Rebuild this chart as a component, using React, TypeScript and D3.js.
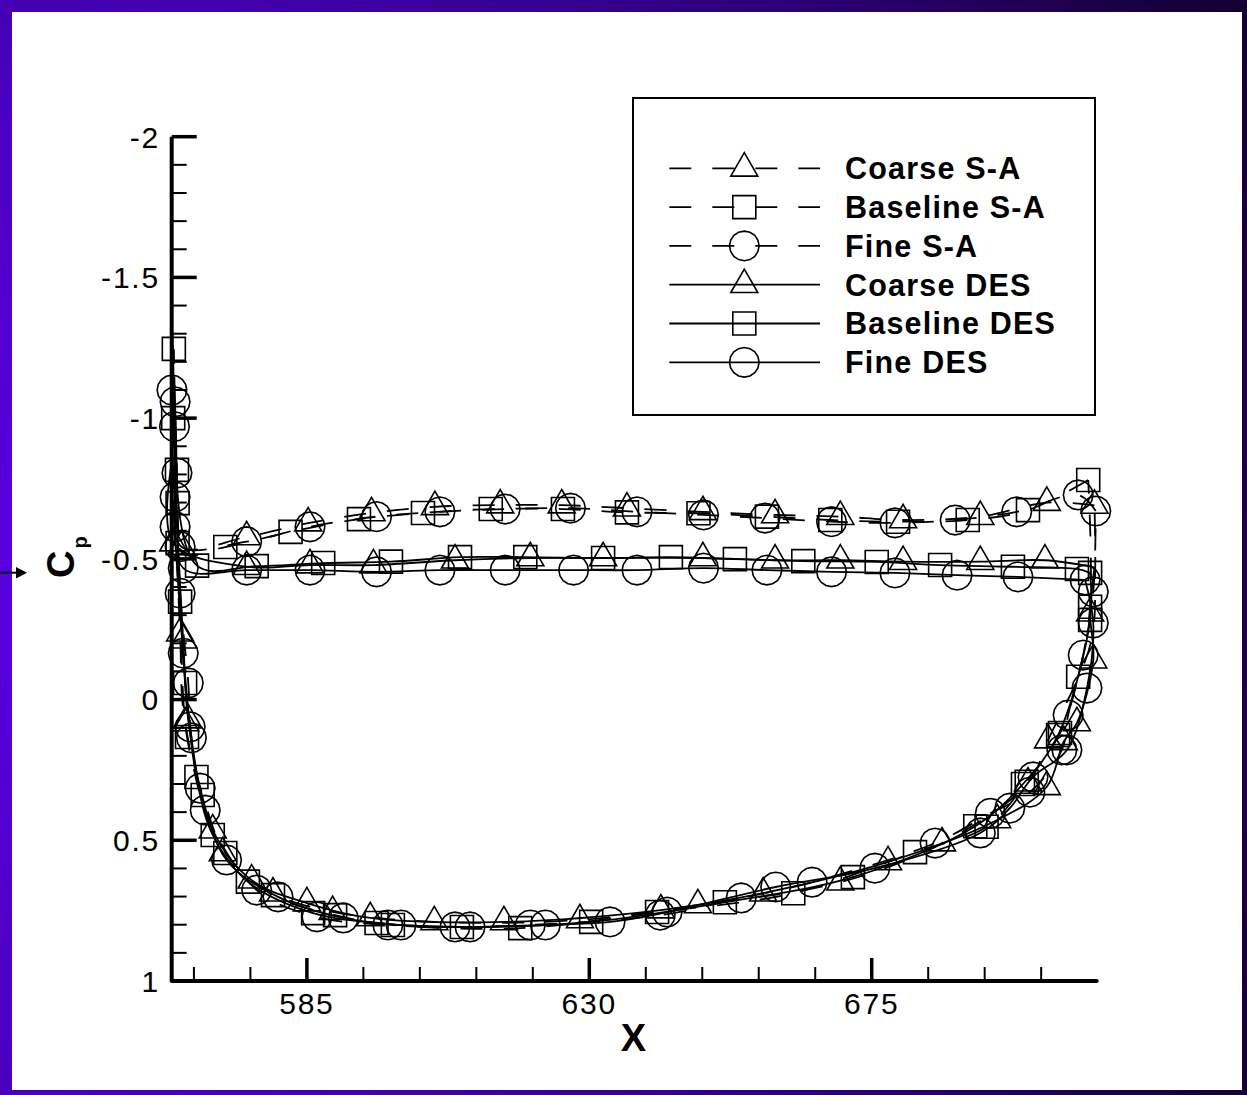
import React from "react";
import * as d3 from "d3";

type Pt = [number, number] | [number, number, number];

// ---- data (x, Cp); third value 0 = point drawn without a symbol ----
const coarseSA: Pt[] = [
  [710.5, -0.69], [702.9, -0.7], [692.3, -0.65], [680.0, -0.638], [670.0, -0.65], [659.6, -0.656], [648.1, -0.667],
  [636.0, -0.68], [625.6, -0.691], [615.8, -0.691], [605.4, -0.685], [595.3, -0.663], [585.2, -0.627], [575.4, -0.578],
  [565.0, -0.543], [563.9, -0.8, 0], [564.8, -0.236], [565.6, 0.083],
  [571.6, 0.545], [579.6, 0.688], [589.1, 0.754], [605.3, 0.79], [628.5, 0.783], [647.3, 0.73], [670.0, 0.649],
  [686.2, 0.51], [699.9, 0.297], [703.1, 0.144], [709.9, -0.2, 0], [710.6, -0.45, 0], [710.5, -0.69, 0],
];
const baselineSA: Pt[] = [
  [709.5, -0.78], [699.9, -0.673], [690.3, -0.638], [679.2, -0.632], [668.4, -0.638], [658.3, -0.65], [647.4, -0.662],
  [636.0, -0.665], [625.8, -0.677], [614.3, -0.677], [603.5, -0.663], [593.3, -0.641], [582.4, -0.596], [572.0, -0.542],
  [565.2, -0.52, 0], [564.3, -0.816], [563.8, -1.246], [564.4, -0.698], [564.8, -0.348], [565.9, 0.133],
  [568.4, 0.339], [572.0, 0.545], [579.6, 0.695], [589.5, 0.766], [598.7, 0.801], [619.0, 0.812], [640.8, 0.755],
  [662.5, 0.688], [681.9, 0.542], [693.3, 0.452], [699.7, 0.292], [705.0, 0.119], [707.9, -0.081], [709.8, -0.33],
  [709.5, -0.78, 0],
];
const fineSA: Pt[] = [
  [710.7, -0.67], [707.9, -0.727], [698.1, -0.667], [688.3, -0.638], [678.7, -0.628], [668.6, -0.632], [658.0, -0.645],
  [648.2, -0.656], [637.6, -0.667], [627.0, -0.68], [616.6, -0.677], [606.2, -0.667], [596.1, -0.65], [585.5, -0.614],
  [575.4, -0.561], [564.8, -0.543], [564.0, -0.72], [563.5, -1.1], [563.9, -0.97], [564.8, -0.378], [566.1, -0.059],
  [566.6, 0.136], [568.8, 0.393], [577.0, 0.677], [586.6, 0.772], [597.9, 0.801], [608.6, 0.808], [620.6, 0.801],
  [641.3, 0.766], [654.2, 0.705], [665.5, 0.649], [685.1, 0.51], [693.9, 0.404], [700.2, 0.329], [705.3, 0.179],
  [706.3, 0.055], [708.7, -0.158], [710.3, -0.383], [710.7, -0.67, 0],
];
const coarseDES: Pt[] = [
  [710.5, -0.47, 0], [702.6, -0.495], [692.3, -0.49], [680.0, -0.49], [670.0, -0.495], [659.6, -0.495], [648.1, -0.503],
  [632.2, -0.503], [620.6, -0.503], [608.6, -0.495], [595.6, -0.478], [585.5, -0.478], [575.4, -0.472],
  [563.7, -0.556], [563.6, -0.85, 0], [565.3, -0.211], [566.1, 0.073],
  [570.0, 0.464], [576.2, 0.642], [585.0, 0.723], [595.1, 0.776], [616.4, 0.79], [641.4, 0.748], [657.7, 0.688],
  [677.6, 0.577], [695.0, 0.428], [702.9, 0.31], [705.6, 0.15], [707.7, 0.083], [710.3, -0.14], [709.8, -0.307],
  [710.5, -0.47, 0],
];
const baselineDES: Pt[] = [
  [709.8, -0.45], [707.7, -0.464], [697.5, -0.472], [685.9, -0.478], [675.8, -0.489], [664.1, -0.492], [653.2, -0.499],
  [643.0, -0.506], [632.2, -0.503], [619.8, -0.506], [609.4, -0.506], [598.4, -0.49], [587.6, -0.485], [577.0, -0.474],
  [567.5, -0.476], [563.7, -1.0], [563.6, -1.3, 0], [564.4, -0.556], [565.6, -0.059],
  [567.4, 0.275], [570.0, 0.481], [575.6, 0.647], [586.0, 0.759], [596.1, 0.794], [609.7, 0.808], [630.3, 0.79],
  [651.6, 0.72], [672.0, 0.631], [691.5, 0.45], [699.1, 0.3], [704.7, 0.126], [709.8, -0.283], [709.8, -0.45, 0],
];
const fineDES: Pt[] = [
  [709.0, -0.425], [698.3, -0.436], [688.6, -0.442], [678.7, -0.45], [668.6, -0.454], [658.3, -0.46], [648.2, -0.467],
  [637.6, -0.46], [627.5, -0.46], [616.6, -0.46], [606.2, -0.46], [596.1, -0.454], [585.5, -0.46], [575.4, -0.46],
  [565.3, -0.467], [564.3, -0.805], [564.0, -1.058], [564.0, -0.614], [565.3, -0.165],
  [566.4, 0.097], [568.0, 0.315], [572.2, 0.57], [580.4, 0.701], [590.8, 0.776], [600.0, 0.801], [611.0, 0.808],
  [623.0, 0.801], [633.3, 0.79], [642.4, 0.755], [659.7, 0.666], [675.5, 0.599], [692.3, 0.474], [697.0, 0.386],
  [700.7, 0.275], [706.1, 0.179], [709.3, -0.041], [710.3, -0.272], [709.0, -0.425, 0],
];

const seriesNames = ["Coarse S-A", "Baseline S-A", "Fine S-A", "Coarse DES", "Baseline DES", "Fine DES"];
const seriesData = [coarseSA, baselineSA, fineSA, coarseDES, baselineDES, fineDES];
const seriesSymbols = ["triangle", "square", "circle", "triangle", "square", "circle"];
const seriesDashed = [true, true, true, false, false, false];

const xMajorTicks = [585, 630, 675];
const yMajorTicks = [-2, -1.5, -1, -0.5, 0, 0.5, 1];
const yTickLabels = ["-2", "-1.5", "-1", "-0.5", "0", "0.5", "1"];
const xDomain: [number, number] = [563.46, 710.85];
const yDomain: [number, number] = [-2, 1];

const W = 1247;
const H = 1095;
const FONT = "'Liberation Sans', Arial, Helvetica, sans-serif";

function symbolPath(type: string): string {
  if (type === "triangle") return "M0,-15.6L13.5,7.8L-13.5,7.8Z";
  if (type === "square") return "M-11.5,-11.5H11.5V11.5H-11.5Z";
  const n = 16, r = 14.8;
  const pts = d3.range(n).map((i) => {
    const a = (i / n) * Math.PI * 2;
    return [r * Math.cos(a), r * Math.sin(a)];
  });
  return "M" + pts.map((p) => p[0].toFixed(2) + "," + p[1].toFixed(2)).join("L") + "Z";
}

export default function App() {
  const x = d3.scaleLinear().domain(xDomain).range([171.7, 1096.7]);
  const y = d3.scaleLinear().domain(yDomain).range([136.7, 981]);
  const line = d3
    .line<Pt>()
    .x((d) => x(d[0]))
    .y((d) => y(d[1]))
    .curve(d3.curveCatmullRom.alpha(0.5));

  const xMinor = d3.range(567, 711, 9).filter((v) => !xMajorTicks.includes(v));
  const yMinor = d3.range(-20, 10, 1).map((v) => v / 10).filter((v) => Math.abs(v * 2 - Math.round(v * 2)) > 1e-6);
  const x0 = x(xDomain[0]);
  const y0 = y(yDomain[1]);

  const legendRows = seriesNames.map((n, i) => ({ name: n, i, cy: 168.3 + i * 38.8 }));

  return (
    <svg width={W} height={H} style={{ position: "absolute", left: 0, top: 0 }} fontFamily={FONT}>
      <defs>
        <radialGradient id="bg" gradientUnits="userSpaceOnUse" cx={0} cy={580} r={1380}>
          <stop offset="0" stopColor="#5a00e0" />
          <stop offset="0.35" stopColor="#4a00c0" />
          <stop offset="0.7" stopColor="#2c0078" />
          <stop offset="1" stopColor="#120030" />
        </radialGradient>
      </defs>
      <rect x={0} y={0} width={W} height={H} fill="url(#bg)" />
      <rect x={12} y={12} width={1230} height={1078} fill="#ffffff" />

      {/* arrow at left edge */}
      <line x1={0} y1={572.7} x2={20} y2={572.7} stroke="#000" strokeWidth={2} />
      <polygon points="16,567 27,572.7 16,578.4" fill="#000" />

      {/* series lines */}
      {seriesData.map((data, i) => (
        <path
          key={"l" + i}
          d={line(data) || ""}
          fill="none"
          stroke="#000"
          strokeWidth={1.8}
          strokeDasharray={seriesDashed[i] ? "22 21" : undefined}
        />
      ))}
      {/* symbols */}
      {seriesData.map((data, i) => (
        <g key={"m" + i}>
          {data
            .filter((d) => d.length < 3)
            .map((d, j) => (
              <path
                key={j}
                d={symbolPath(seriesSymbols[i])}
                transform={`translate(${x(d[0])},${y(d[1])})`}
                fill="none"
                stroke="#000"
                strokeWidth={1.6}
              />
            ))}
        </g>
      ))}

      {/* axes */}
      <line x1={x0} y1={y(yDomain[0])} x2={x0} y2={y0} stroke="#000" strokeWidth={4} />
      <line x1={x0} y1={y0} x2={x(xDomain[1])} y2={y0} stroke="#000" strokeWidth={4} strokeLinecap="round" />
      {yMajorTicks.map((v, i) => (
        <g key={"ym" + i}>
          <line x1={x0} x2={x0 + 25} y1={y(v)} y2={y(v)} stroke="#000" strokeWidth={3.5} />
          <text x={160} y={y(v) + 10.8} textAnchor="end" fontSize={30} letterSpacing={1.8} fill="#000">
            {yTickLabels[i]}
          </text>
        </g>
      ))}
      {yMinor.map((v, i) => (
        <line key={"yn" + i} x1={x0} x2={x0 + 15} y1={y(v)} y2={y(v)} stroke="#000" strokeWidth={2} />
      ))}
      {xMajorTicks.map((v, i) => (
        <g key={"xm" + i}>
          <line x1={x(v)} x2={x(v)} y1={y0} y2={y0 - 23} stroke="#000" strokeWidth={3.5} />
          <text x={x(v)} y={1013.5} textAnchor="middle" fontSize={30} letterSpacing={1.8} fill="#000">
            {String(v)}
          </text>
        </g>
      ))}
      {xMinor.map((v, i) => (
        <line key={"xn" + i} x1={x(v)} x2={x(v)} y1={y0} y2={y0 - 14} stroke="#000" strokeWidth={2} />
      ))}

      {/* axis titles */}
      <text x={633.5} y={1050.5} textAnchor="middle" fontSize={38} fontWeight="bold" fill="#000">
        X
      </text>
      <text transform="translate(74,578) rotate(-90)" fontSize={38} fontWeight="bold" fill="#000">
        C
        <tspan fontSize={20} dy={13} dx={2}>
          p
        </tspan>
      </text>

      {/* legend */}
      <rect x={633} y={98} width={462} height={317} fill="#fff" stroke="#000" strokeWidth={2} />
      {legendRows.map((r) => (
        <g key={"lg" + r.i}>
          <line
            x1={669.3}
            x2={820}
            y1={r.cy}
            y2={r.cy}
            stroke="#000"
            strokeWidth={1.8}
            strokeDasharray={seriesDashed[r.i] ? "22 21" : undefined}
          />
          <path
            d={symbolPath(seriesSymbols[r.i])}
            transform={`translate(744.3,${r.cy})`}
            fill="none"
            stroke="#000"
            strokeWidth={1.6}
          />
          <text x={845} y={r.cy + 10.8} fontSize={30.5} fontWeight="bold" letterSpacing={1.2} fill="#000">
            {r.name}
          </text>
        </g>
      ))}
    </svg>
  );
}
